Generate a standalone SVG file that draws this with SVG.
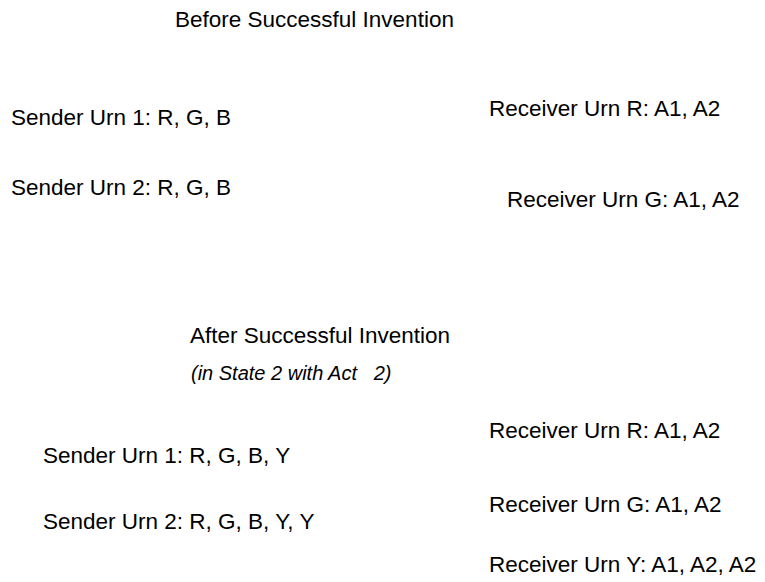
<svg xmlns="http://www.w3.org/2000/svg" width="765" height="582" viewBox="0 0 765 582">
<style>
text{font-family:"Liberation Sans",Arial,sans-serif;font-size:22.5px;fill:#000}
.it{font-style:italic;font-size:20px;white-space:pre}
</style>
<rect width="765" height="582" fill="#fff"/>
<g id="before-title"><text x="175" y="27">Before Successful Invention</text></g>
<g id="before-sender1"><text x="11" y="125">Sender Urn 1: R, G, B</text></g>
<g id="before-sender2"><text x="11" y="195">Sender Urn 2: R, G, B</text></g>
<g id="before-receiverR"><text x="489" y="116">Receiver Urn R: A1, A2</text></g>
<g id="before-receiverG"><text x="507" y="207">Receiver Urn G: A1, A2</text></g>
<g id="after-title"><text x="190" y="343">After Successful Invention</text></g>
<g id="after-subtitle"><text class="it" x="191" y="380" xml:space="preserve">(in State 2 with Act   2)</text></g>
<g id="after-receiverR"><text x="489" y="438">Receiver Urn R: A1, A2</text></g>
<g id="after-sender1"><text x="43" y="463">Sender Urn 1: R, G, B, Y</text></g>
<g id="after-receiverG"><text x="489" y="512">Receiver Urn G: A1, A2</text></g>
<g id="after-sender2"><text x="43" y="529">Sender Urn 2: R, G, B, Y, Y</text></g>
<g id="after-receiverY"><text x="489" y="572">Receiver Urn Y: A1, A2, A2</text></g>
<g id="connectors"></g>
</svg>
